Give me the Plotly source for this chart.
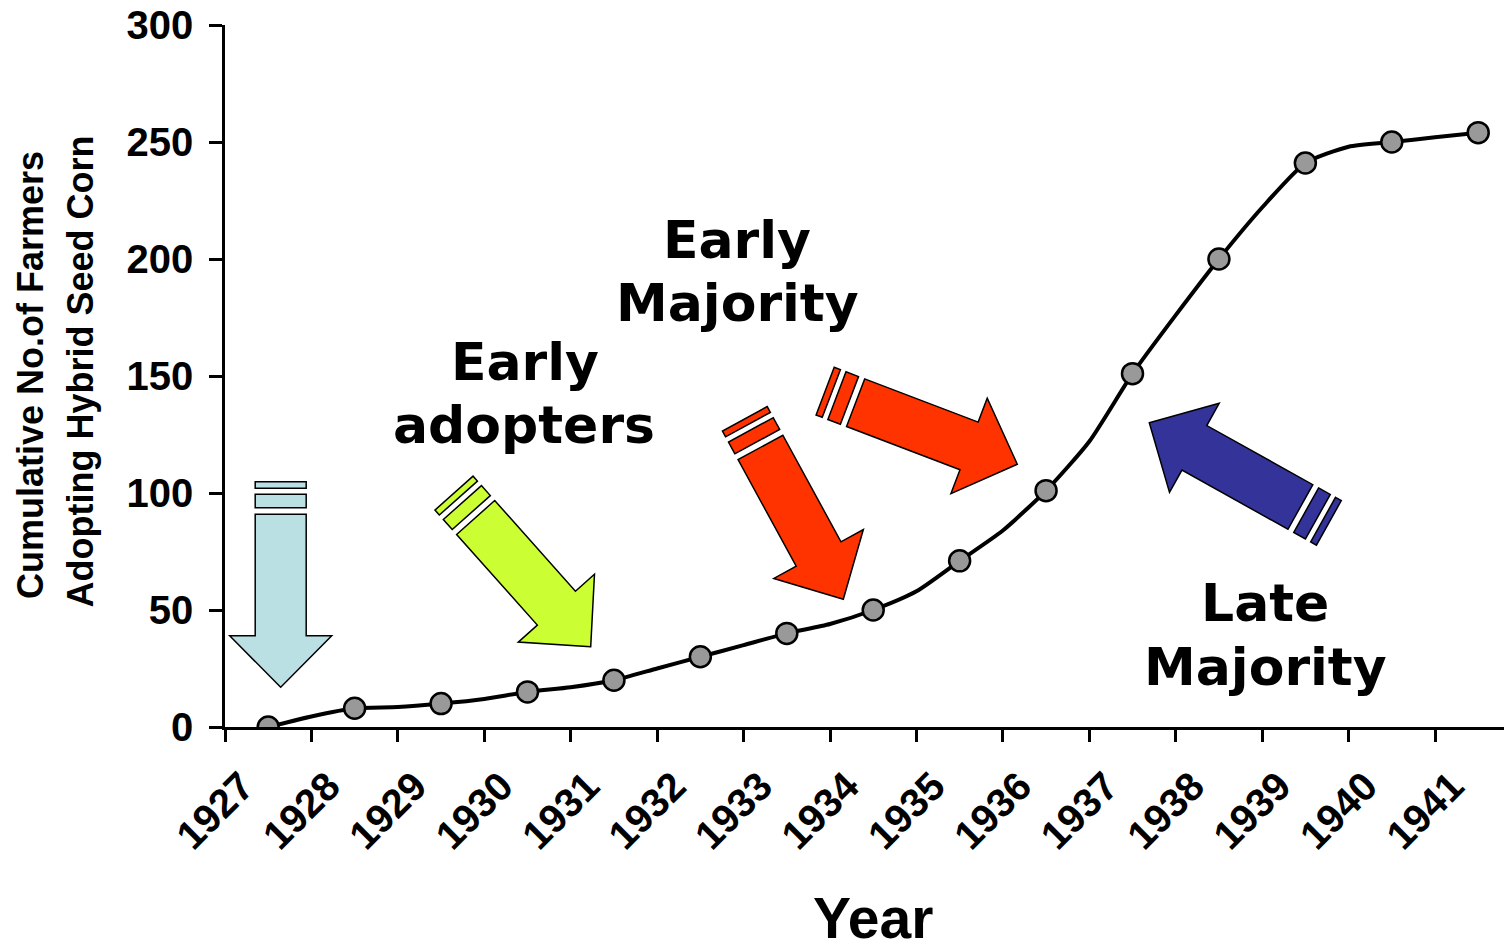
import plotly.graph_objects as go
import numpy as np

# ---------------- data ----------------
years = list(range(1927, 1942))
year_labels = [str(y) for y in years]
adopters = [0, 8, 10, 15, 20, 30, 40, 50, 71, 101, 151, 200, 241, 250, 254]
# curve values read at the year boundaries (between markers), 1928..1941
boundary_years = list(range(1928, 1942))
boundary_values = [4.5, 8.5, 12, 17, 25, 35, 44, 58, 84, 122, 176, 222, 248, 252]
y_ticks = [0, 50, 100, 150, 200, 250, 300]

# ---------------- layout geometry (screen pixels) ----------------
OFF = 8                      # default page margin of the html body
SW, SH = 1512, 949           # screen size
W, H = SW - OFF, SH - OFF    # figure size
L, R, T, B = 225, 1512, 25, 727   # plot area on screen
px_per_year = (1435 - 225) / 14.0
x_max = 1927 + (R - L) / px_per_year


def px(x):
    return (x - L) / (R - L)


def py(y):
    return (B - y) / (B - T)


# marker points sit at category centres
marker_x = [y + 0.5 for y in years]
line_x, line_y = [], []
for i, yv in enumerate(years):
    line_x.append(yv + 0.5)
    line_y.append(adopters[i])
    if i < len(boundary_years):
        line_x.append(boundary_years[i])
        line_y.append(boundary_values[i])

fig = go.Figure()
fig.add_trace(go.Scatter(x=line_x, y=line_y, mode="lines",
                         line=dict(color="black", width=4, shape="spline", smoothing=0.6),
                         hoverinfo="skip", showlegend=False))
fig.add_trace(go.Scatter(x=marker_x, y=adopters, mode="markers",
                         marker=dict(size=21, color="#999999", line=dict(color="black", width=2.5)),
                         showlegend=False))

# ---------------- striped block arrows ----------------
# (tip_x, tip_y, dir_x, dir_y, colour) in screen pixels
arrows = [
    (280.7, 687.3, 0.0, 1.0, "#BBE0E4"),
    (590.7, 646.7, 0.665, 0.747, "#CCFF33"),
    (843.3, 599.3, 0.479, 0.878, "#FF3300"),
    (1017.3, 464.3, 0.935, 0.356, "#FF3300"),
    (1149.3, 422.7, -0.873, -0.487, "#333399"),
]
HEAD_L, HEAD_HW, SHAFT_HW, SHAFT_END = 51.6, 51.0, 25.5, 173.0
STRIPES = [(179.6, 193.0), (199.0, 205.6)]


def poly(pts):
    return "M " + " L ".join(f"{px(a):.5f},{py(b):.5f}" for a, b in pts) + " Z"


shapes = []
for tx, ty, dx, dy, col in arrows:
    n = np.hypot(dx, dy)
    dx, dy = dx / n, dy / n
    nx, ny = -dy, dx

    def P(s, o):
        return (tx - s * dx + o * nx, ty - s * dy + o * ny)

    body = [P(0, 0), P(HEAD_L, HEAD_HW), P(HEAD_L, SHAFT_HW), P(SHAFT_END, SHAFT_HW),
            P(SHAFT_END, -SHAFT_HW), P(HEAD_L, -SHAFT_HW), P(HEAD_L, -HEAD_HW)]
    shapes.append(dict(type="path", xref="paper", yref="paper", path=poly(body),
                       fillcolor=col, line=dict(color="black", width=1.5)))
    for s0, s1 in STRIPES:
        rect = [P(s0, SHAFT_HW), P(s1, SHAFT_HW), P(s1, -SHAFT_HW), P(s0, -SHAFT_HW)]
        shapes.append(dict(type="path", xref="paper", yref="paper", path=poly(rect),
                           fillcolor=col, line=dict(color="black", width=1.5)))

# ---------------- text ----------------
label_font = dict(family="DejaVu Sans", size=52, color="black", weight="bold")
labels = [
    ("Early", 525, 362), ("adopters", 524, 425),
    ("Early", 737, 240), ("Majority", 737, 303),
    ("Late", 1265, 603), ("Majority", 1265, 667),
]
annotations = []
for txt, x0, y0 in labels:
    annotations.append(dict(text=txt, x=px(x0), y=py(y0), xref="paper", yref="paper",
                            xanchor="center", yanchor="middle", showarrow=False, font=label_font))

ytitle_font = dict(family="Liberation Sans", size=36, color="black", weight="bold")
for txt, x0, y0 in [("Cumulative No.of Farmers", 30, 375), ("Adopting Hybrid Seed Corn", 79.5, 372)]:
    annotations.append(dict(text=txt, x=px(x0), y=py(y0), xref="paper", yref="paper",
                            xanchor="center", yanchor="middle", showarrow=False,
                            textangle=-90, font=ytitle_font))

annotations.append(dict(text="Year", x=px(873), y=py(918), xref="paper", yref="paper",
                        xanchor="center", yanchor="middle", showarrow=False,
                        font=dict(family="Liberation Sans", size=57, color="black", weight="bold")))

ytick_font = dict(family="Liberation Sans", size=40, color="black", weight="bold")
xtick_font = dict(family="Liberation Sans", size=40, color="black", weight="bold")

fig.update_layout(
    width=W, height=H,
    margin=dict(l=L - OFF, r=SW - R, t=T - OFF, b=SH - B, pad=0, autoexpand=False),
    paper_bgcolor="white", plot_bgcolor="white",
    shapes=shapes, annotations=annotations,
    xaxis=dict(range=[1927, x_max], tickmode="array", tickvals=years, ticktext=year_labels,
               tickangle=-45, tickfont=xtick_font, ticks="outside", ticklen=12, tickwidth=2.5,
               tickcolor="black", showline=True, linecolor="black", linewidth=2.5,
               showgrid=False, zeroline=False, ticklabelshift=17, ticklabelstandoff=5,
               ticklabeloverflow="allow", automargin=False),
    yaxis=dict(range=[0, 300], tickmode="array", tickvals=y_ticks, tickfont=ytick_font,
               ticks="outside", ticklen=13, tickwidth=2.5, tickcolor="black",
               showline=True, linecolor="black", linewidth=2.5, showgrid=False,
               zeroline=False, ticklabelstandoff=8, ticklabeloverflow="allow",
               automargin=False),
)

fig.write_html("out.html")
